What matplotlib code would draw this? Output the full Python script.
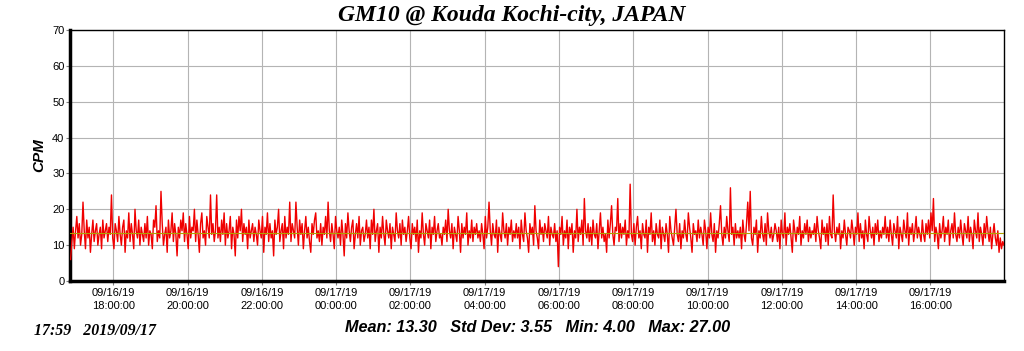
import matplotlib
matplotlib.use("Agg")
import matplotlib.pyplot as plt
import matplotlib.dates as mdates
import pandas as pd

title = "GM10 @ Kouda Kochi-city, JAPAN"
ylabel = "CPM"
stats_text = "Mean: 13.30   Std Dev: 3.55   Min: 4.00   Max: 27.00"
stamp_text = "17:59   2019/09/17"
mean_value = 13.30
start_time = "2019-09-16 16:51"
step = "2min"
x_start = "2019-09-16 16:50"
x_end = "2019-09-17 17:59"
tick_times = ["2019-09-16 18:00", "2019-09-16 20:00", "2019-09-16 22:00",
              "2019-09-17 00:00", "2019-09-17 02:00", "2019-09-17 04:00",
              "2019-09-17 06:00", "2019-09-17 08:00", "2019-09-17 10:00",
              "2019-09-17 12:00", "2019-09-17 14:00", "2019-09-17 16:00"]
y_ticks = [0, 10, 20, 30, 40, 50, 60, 70]

cpm = [
    6,11,15,9,14,18,12,16,10,13,22,14,9,17,12,15,8,13,17,11,14,16,10,13,15,9,17,12,14,16,
    11,15,13,24,12,9,16,14,11,18,13,10,15,17,8,14,12,19,11,16,13,9,20,14,12,17,10,15,13,11,
    16,12,18,10,14,13,9,17,15,21,11,14,12,25,16,10,13,15,8,17,12,14,19,11,16,13,7,15,12,17,
    14,19,11,16,13,9,18,12,15,14,20,11,17,13,8,16,19,12,14,10,18,15,12,24,13,16,11,14,24,12,
    15,11,17,13,19,10,16,12,14,18,9,15,13,7,17,12,18,14,20,11,16,13,15,9,17,12,14,16,11,15,
    13,10,17,14,12,18,8,15,13,19,11,16,12,14,7,17,13,15,20,11,14,16,9,18,12,15,13,22,11,16,
    14,12,22,15,10,17,13,16,9,14,18,12,15,11,8,16,13,17,19,12,14,11,16,10,15,13,18,12,22,14,
    11,16,13,9,18,14,12,15,10,17,13,7,16,12,19,14,11,15,17,9,13,16,12,18,10,14,15,11,13,17,
    12,15,9,17,13,20,11,14,16,8,15,12,18,13,10,17,14,12,16,9,15,13,11,19,14,12,16,10,17,13,
    15,11,14,18,12,9,16,13,15,11,17,8,14,12,19,13,10,16,14,12,17,9,15,13,18,11,14,16,12,13,
    10,15,13,17,11,20,14,12,16,9,15,13,11,18,14,8,16,12,15,13,19,10,14,12,17,11,15,13,16,12,
    14,11,16,13,9,18,12,15,22,14,10,16,13,12,17,8,15,13,11,19,14,12,16,10,15,13,17,11,14,12,
    16,12,15,9,17,13,11,19,14,12,8,16,13,15,10,21,14,12,9,17,13,15,11,16,14,12,18,10,15,13,
    12,16,11,14,4,15,13,18,10,14,12,17,9,15,13,16,8,14,12,20,11,15,13,17,10,23,14,12,16,11,
    15,10,17,13,12,16,9,14,19,12,15,11,13,8,17,12,16,21,13,10,15,14,23,11,16,12,15,13,17,10,
    14,12,27,13,11,16,10,15,18,12,14,9,16,13,12,17,8,15,13,19,11,14,10,16,13,12,17,9,15,13,
    11,16,13,8,18,14,12,10,15,20,13,11,16,9,14,12,17,13,11,19,15,12,8,16,13,14,11,17,12,15,
    13,10,17,14,9,15,12,19,13,11,16,8,14,12,16,21,13,10,15,12,18,14,11,26,13,15,10,16,12,14,
    12,15,9,17,13,11,16,22,14,25,12,10,15,13,17,8,14,12,18,13,11,16,10,19,14,12,15,11,13,16,
    14,11,15,9,17,13,12,19,10,15,13,16,12,8,17,14,11,15,13,18,10,14,12,16,13,17,11,15,12,14,
    13,16,11,18,14,12,9,17,13,15,11,16,10,18,13,12,24,14,11,15,13,16,9,14,12,17,13,10,15,14,
    12,17,14,10,15,13,19,11,16,12,14,9,17,13,11,18,14,12,15,10,16,13,17,11,14,12,15,13,18,12,
    15,11,17,13,10,16,14,12,18,9,15,13,11,17,14,12,19,10,15,13,16,11,14,18,12,15,13,11,17,13,
    11,16,13,17,12,19,14,23,11,15,13,9,16,12,14,18,11,15,13,17,10,14,16,12,19,13,11,15,12,17,
    13,10,16,14,12,18,11,15,13,9,17,14,12,19,11,15,13,10,16,12,18,14,11,15,9,13,16,12,10,14,
    8,12,9,11,10,
]

times = pd.date_range(start=start_time, periods=len(cpm), freq=step)

fig = plt.figure(figsize=(10.24, 3.51), dpi=100)
ax = fig.add_axes([70/1024, 1-281/351, (1004-70)/1024, (281-30)/351])

ax.plot(times, cpm, color="#f00000", lw=1.0, zorder=3)
ax.axhline(mean_value, color="#b0a000", lw=0.8, zorder=4)

ax.set_xlim(pd.Timestamp(x_start), pd.Timestamp(x_end))
ax.set_ylim(0, 70)
ax.set_yticks(y_ticks)
ax.set_xticks([pd.Timestamp(t) for t in tick_times])
ax.xaxis.set_major_formatter(mdates.DateFormatter("%m/%d/%y\n%H:%M:%S"))
ax.grid(True, color="#b4b4b4", lw=0.8)
ax.set_axisbelow(True)

for lab in ax.get_xticklabels() + ax.get_yticklabels():
    lab.set_fontfamily("Liberation Sans")
    lab.set_fontsize(8)
for lab in ax.get_xticklabels():
    lab.set_linespacing(1.35)
ax.tick_params(axis="both", length=3, width=0.8, color="#808080", pad=1)
ax.tick_params(axis="x", pad=2)

for s in ["left", "bottom"]:
    ax.spines[s].set_linewidth(2.5)
for s in ["top", "right"]:
    ax.spines[s].set_linewidth(1.0)

ax.set_ylabel(ylabel, fontfamily="Liberation Sans", fontsize=11,
              fontweight="bold", fontstyle="italic", labelpad=4)

fig.text(0.5, 0.955, title, ha="center", va="center",
         fontfamily="Liberation Serif", fontsize=17, fontweight="bold",
         fontstyle="italic")
fig.text(538/1024, 1-327/351, stats_text, ha="center", va="center",
         fontfamily="Liberation Sans", fontsize=11.7, fontweight="bold",
         fontstyle="italic")
fig.text(34/1024, 1-331/351, stamp_text, ha="left", va="center",
         fontfamily="Liberation Serif", fontsize=11.4, fontweight="bold",
         fontstyle="italic")

fig.savefig("out.png", dpi=100)
